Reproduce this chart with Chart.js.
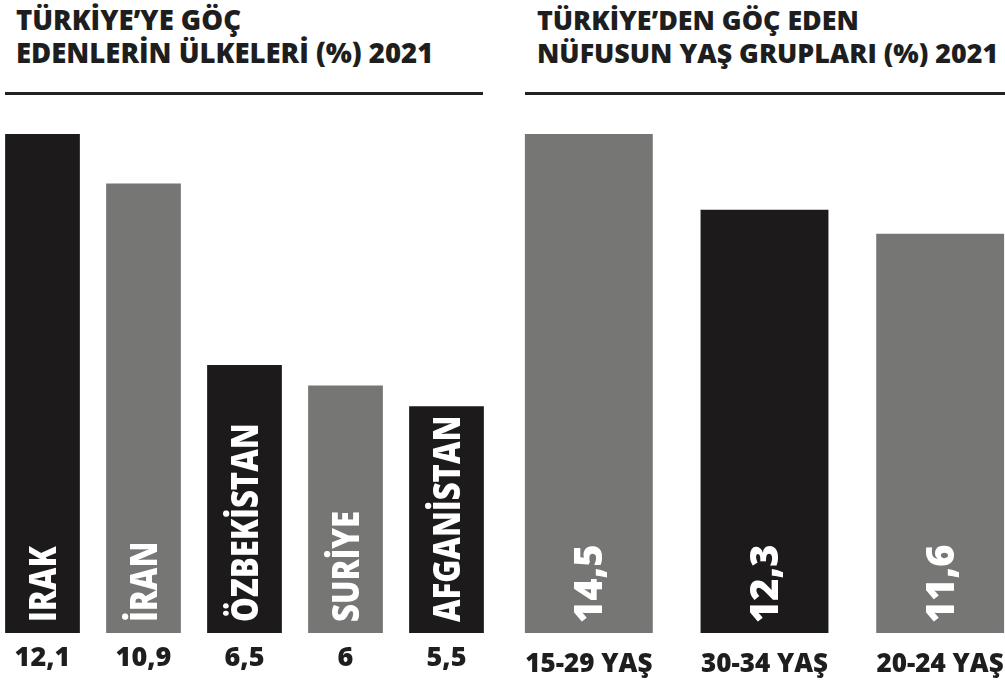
<!DOCTYPE html>
<html lang="tr">
<head>
<meta charset="UTF-8">
<title>Türkiye göç 2021</title>
<script src="https://cdn.jsdelivr.net/npm/chart.js"></script>
<style>
  html, body { margin: 0; padding: 0; background: #fff; }
  body { width: 1005px; height: 684px; position: relative; overflow: hidden; font-family: "Open Sans", sans-serif; }
  .title { position: absolute; top: 3px; font-weight: 800; font-size: 27.5px; line-height: 33px; color: #1e1e1e; white-space: nowrap; }
  .rule { position: absolute; top: 92px; height: 3px; background: #222; }
  .box { position: absolute; top: 120px; height: 564px; }
</style>
</head>
<body>

<div class="title" style="left:16px">TÜRKİYE’YE GÖÇ<br>EDENLERİN ÜLKELERİ (%) 2021</div>
<div class="rule" style="left:5px; width:478px"></div>
<div class="title" style="left:537px; font-size:26.8px">TÜRKİYE’DEN GÖÇ EDEN<br>NÜFUSUN YAŞ GRUPLARI (%) 2021</div>
<div class="rule" style="left:525px; width:480px"></div>

<div class="box" style="left:-8px; width:505px"><canvas id="ulke"></canvas></div>
<div class="box" style="left:501px; width:527px"><canvas id="yas"></canvas></div>

<script>
// ülkeler
const ulkeler = ['IRAK', 'İRAN', 'ÖZBEKİSTAN', 'SURİYE', 'AFGANİSTAN'];
const ulkeDegerleri = [12.1, 10.9, 6.5, 6, 5.5];
const ulkeEtiketleri = ['12,1', '10,9', '6,5', '6', '5,5'];

// yaş grupları
const yasGruplari = ['15-29 YAŞ', '30-34 YAŞ', '20-24 YAŞ'];
const yasDegerleri = [14.5, 12.3, 11.6];
const yasEtiketleri = ['14,5', '12,3', '11,6'];

const SIYAH = '#1c1a1a';
const GRI = '#767775';

// çubuk içindeki dikey yazılar
const dikeyYazi = {
  id: 'dikeyYazi',
  afterDatasetsDraw(chart, args, opts) {
    const ctx = chart.ctx;
    const bars = chart.getDatasetMeta(0).data;
    ctx.save();
    ctx.fillStyle = '#fff';
    ctx.font = opts.font;
    ctx.textAlign = 'left';
    ctx.textBaseline = 'alphabetic';
    bars.forEach((bar, i) => {
      ctx.save();
      ctx.translate(bar.x, bar.base - opts.offset);
      ctx.rotate(-Math.PI / 2);
      ctx.scale(opts.stretch, 1);
      ctx.fillText(opts.labels[i], 0, opts.cap / 2);
      ctx.restore();
    });
    ctx.restore();
  }
};

function ciz(id, labels, values, colors, inside, tickFont, tickPad, barPct) {
  new Chart(document.getElementById(id), {
    type: 'bar',
    data: {
      labels: labels,
      datasets: [{
        data: values,
        backgroundColor: colors,
        borderWidth: 0,
        categoryPercentage: 1,
        barPercentage: barPct
      }]
    },
    options: {
      responsive: true,
      maintainAspectRatio: false,
      animation: false,
      layout: { padding: { top: 14, bottom: 5, left: 0, right: 0 } },
      plugins: {
        legend: { display: false },
        tooltip: { enabled: false },
        dikeyYazi: inside
      },
      scales: {
        x: {
          grid: { display: false, drawTicks: false },
          border: { display: false },
          ticks: {
            color: '#1e1e1e',
            font: tickFont,
            padding: tickPad,
            maxRotation: 0,
            autoSkip: false
          },
          afterFit(scale) { scale.height = 46; }
        },
        y: {
          display: false,
          min: 0,
          max: Math.max(...values)
        }
      }
    },
    plugins: [dikeyYazi]
  });
}

ciz('ulke',
  ulkeEtiketleri, ulkeDegerleri,
  [SIYAH, GRI, SIYAH, GRI, SIYAH],
  { labels: ulkeler, font: '800 37px "Open Sans", sans-serif', offset: 11, cap: 26, stretch: 0.84 },
  { family: '"Open Sans", sans-serif', size: 27, weight: 800, lineHeight: 1.2 },
  9, 0.74);

ciz('yas',
  yasGruplari, yasDegerleri,
  [GRI, SIYAH, GRI],
  { labels: yasEtiketleri, font: '800 38px "Open Sans", sans-serif', offset: 10, cap: 27, stretch: 1 },
  { family: '"Open Sans", sans-serif', size: 26, weight: 800, lineHeight: 1.2 },
  16, 0.728);
</script>

</body>
</html>
